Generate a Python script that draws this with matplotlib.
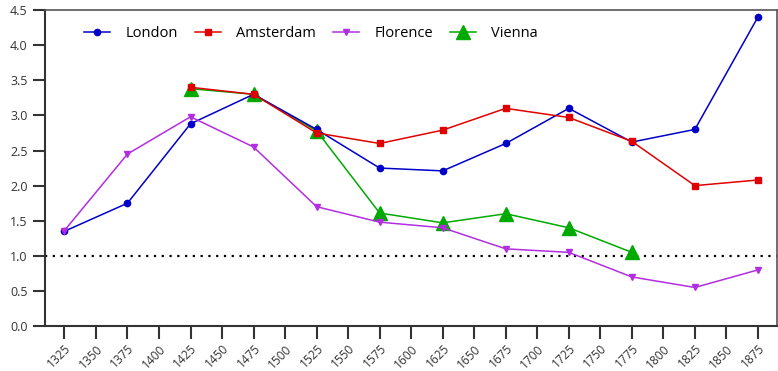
import matplotlib
matplotlib.use("Agg")
import matplotlib.pyplot as plt

plt.rcParams['font.family'] = ['Open Sans', 'DejaVu Sans']

years = [1325, 1375, 1425, 1475, 1525, 1575, 1625, 1675, 1725, 1775, 1825, 1875]
london = [1.35, 1.75, 2.88, 3.30, 2.80, 2.25, 2.21, 2.60, 3.10, 2.62, 2.80, 4.40]
amsterdam_years = [1425, 1475, 1525, 1575, 1625, 1675, 1725, 1775, 1825, 1875]
amsterdam = [3.40, 3.30, 2.75, 2.60, 2.79, 3.10, 2.97, 2.63, 2.00, 2.08]
florence = [1.36, 2.45, 2.98, 2.55, 1.70, 1.48, 1.40, 1.10, 1.05, 0.70, 0.55, 0.80]
vienna_years = [1425, 1475, 1525, 1575, 1625, 1675, 1725, 1775]
vienna = [3.38, 3.30, 2.78, 1.61, 1.47, 1.60, 1.40, 1.05]
tick_years = list(range(1325, 1876, 25))

fig = plt.figure(figsize=(7.78, 3.71), dpi=100)
ax = fig.add_axes([0.058, 0.121, 0.941, 0.852])

# vienna first so the other markers sit on top of its triangles
lv, = ax.plot(vienna_years, vienna, color='#00aa00', marker='^', ms=10, lw=1.1, zorder=2)
ll, = ax.plot(years, london, color='#0000c8', marker='o', ms=4.5, lw=1.1, zorder=3)
la, = ax.plot(amsterdam_years, amsterdam, color='#e00000', marker='s', ms=4, lw=1.1, zorder=3)
lf, = ax.plot(years, florence, color='#b22ee0', marker='v', ms=4, lw=1.1, zorder=3)
ax.axhline(1.0, color='black', ls=(0, (1, 2.5)), lw=1.6, zorder=1)

ax.legend([ll, la, lf, lv], ['London', 'Amsterdam', 'Florence', 'Vienna'],
          ncol=4, frameon=False, loc='upper left', bbox_to_anchor=(0.035, 0.99),
          fontsize=10.5, handlelength=1.8, columnspacing=1.15, handletextpad=1.05)

ax.set_xlim(1309.7, 1890.3)
ax.set_ylim(0, 4.5)
ax.set_yticks([0, 0.5, 1, 1.5, 2, 2.5, 3, 3.5, 4, 4.5])
ax.set_yticklabels(['%.1f' % v for v in ax.get_yticks()])
ax.set_xticks(tick_years)
ax.set_xticklabels([str(y) for y in tick_years], rotation=45, ha='right', rotation_mode='anchor')
ax.tick_params(axis='both', direction='out', length=9, width=1.5, labelsize=9, colors='#333333')
ax.tick_params(axis='x', pad=2.5, labelsize=8.6)
for s in ['left', 'bottom']:
    ax.spines[s].set_linewidth(1.5)
    ax.spines[s].set_color('#333333')
for s in ['top', 'right']:
    ax.spines[s].set_linewidth(1.2)
    ax.spines[s].set_color('#555555')

fig.savefig('out.png', dpi=100)
